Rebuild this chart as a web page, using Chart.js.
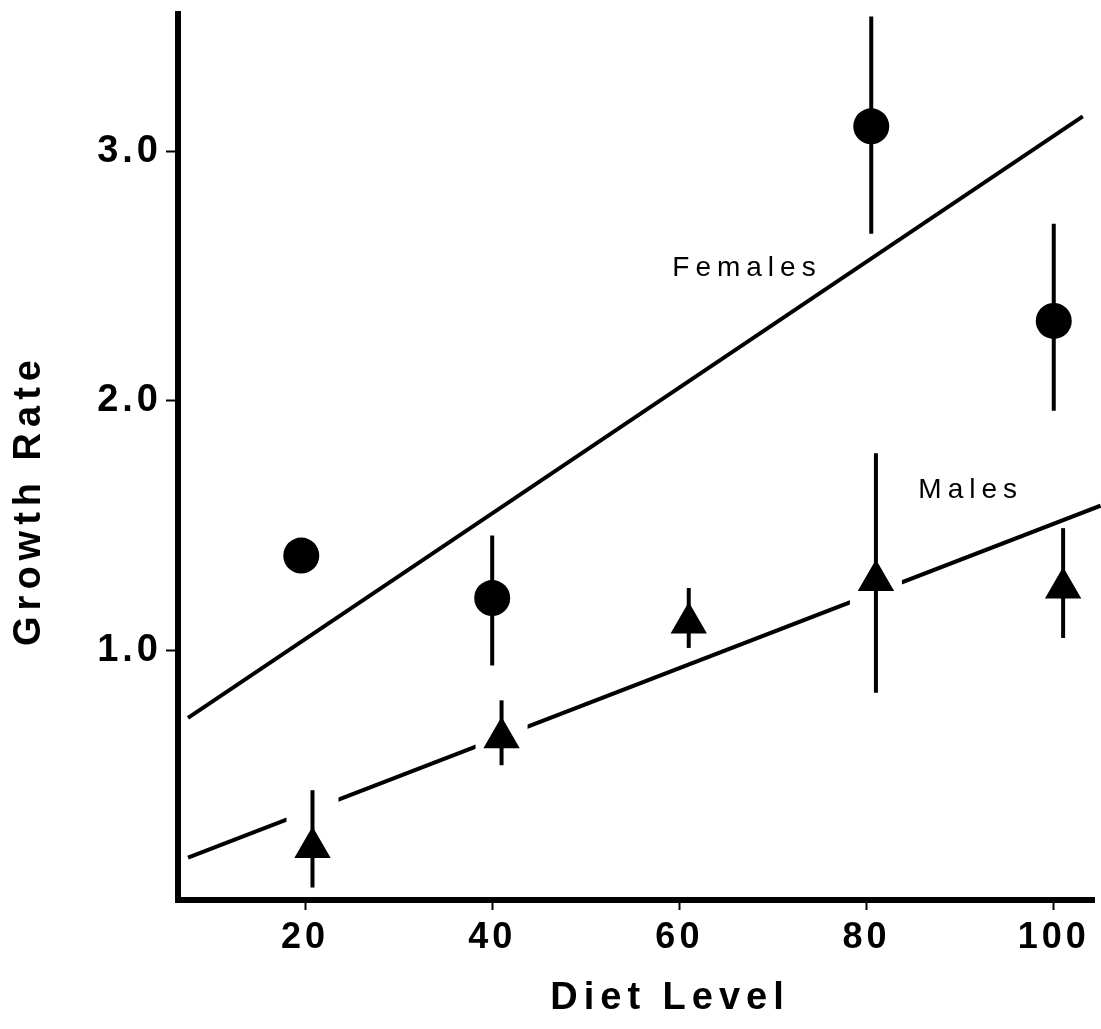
<!DOCTYPE html>
<html>
<head>
<meta charset="utf-8">
<script src="https://cdn.jsdelivr.net/npm/chart.js@4/dist/chart.umd.min.js"></script>
<style>
  html, body { margin: 0; padding: 0; background: #fff; }
  #wrap { width: 1101px; height: 1029px; }
</style>
</head>
<body>
<div id="wrap"><canvas id="growthChart" width="1101" height="1029"></canvas></div>
<script>
// growth rate by diet level: means with error bars, plus fitted lines
const femaleX    = [19.6, 40, 80.5, 100];
const femaleY    = [1.38, 1.21, 3.10, 2.32];
const femaleLow  = [null, 0.94, 2.67, 1.96];
const femaleHigh = [null, 1.46, 3.54, 2.71];

const maleX    = [20.8, 41, 61, 81, 101];
const maleY    = [0.21, 0.65, 1.11, 1.28, 1.25];
const maleLow  = [0.05, 0.54, 1.01, 0.83, 1.05];
const maleHigh = [0.44, 0.80, 1.25, 1.79, 1.49];

// regression line end points
const femaleFitX = [7.5, 103.1];
const femaleFitY = [0.73, 3.14];
const maleFitX   = [7.5, 105];
const maleFitY   = [0.17, 1.58];

const xTicks = [20, 40, 60, 80, 100];
const yTicks = [1, 2, 3];

const lineLabels = [
  { text: 'Females', x: 66.9, y: 2.53 },
  { text: 'Males',   x: 90.8, y: 1.64 }
];

const FONT = '"Liberation Sans", Arial, Helvetica, sans-serif';
const pts = (xs, ys) => xs.map((x, i) => ({ x, y: ys[i] }));

// wider letter spacing for all canvas text
const spacing = {
  id: 'spacing',
  beforeUpdate(chart) { chart.ctx.letterSpacing = '4px'; },
  beforeDraw(chart) { chart.ctx.letterSpacing = '4px'; }
};

function strokeBars(chart, xs, lows, highs) {
  const { ctx, scales: { x, y } } = chart;
  ctx.save();
  ctx.strokeStyle = '#000';
  ctx.lineWidth = 4;
  xs.forEach((v, i) => {
    if (lows[i] == null) return;
    const px = x.getPixelForValue(v);
    ctx.beginPath();
    ctx.moveTo(px, y.getPixelForValue(highs[i]));
    ctx.lineTo(px, y.getPixelForValue(lows[i]));
    ctx.stroke();
  });
  ctx.restore();
}

// fixed axis box, no extra room for overhanging tick labels
function fixBox(size) {
  return s => {
    if (s.isHorizontal()) s.height = size; else s.width = size;
    s.paddingTop = s.paddingBottom = s.paddingLeft = s.paddingRight = 0;
  };
}

const maleFitAt = v =>
  maleFitY[0] + (v - maleFitX[0]) * (maleFitY[1] - maleFitY[0]) / (maleFitX[1] - maleFitX[0]);

const errorBars = {
  id: 'errorBars',
  afterDatasetDraw(chart, args) {
    // white-out the male fit line where it runs through a male bar
    if (args.index !== 1) return;
    const { ctx, scales: { x, y } } = chart;
    ctx.save();
    ctx.fillStyle = '#fff';
    maleX.forEach((v, i) => {
      const fy = maleFitAt(v);
      if (fy < maleLow[i] || fy > maleHigh[i]) return;
      const px = x.getPixelForValue(v);
      const top = y.getPixelForValue(maleHigh[i]) + 2;
      const bot = y.getPixelForValue(maleLow[i]);
      ctx.fillRect(px - 26, top, 52, bot - top);
    });
    ctx.restore();
  },
  afterDatasetsDraw(chart) {
    strokeBars(chart, femaleX, femaleLow, femaleHigh);
    strokeBars(chart, maleX, maleLow, maleHigh);

    const { ctx, scales: { x, y } } = chart;
    ctx.save();
    ctx.fillStyle = '#000';
    ctx.textAlign = 'center';
    ctx.textBaseline = 'middle';
    ctx.letterSpacing = '6px';
    ctx.font = '28px ' + FONT;
    lineLabels.forEach(l => {
      ctx.fillText(l.text, x.getPixelForValue(l.x) + 3, y.getPixelForValue(l.y));
    });
    ctx.restore();
  },
  afterDraw(chart) {
    const { ctx } = chart;
    ctx.save();
    ctx.fillStyle = '#000';
    ctx.textAlign = 'center';
    ctx.textBaseline = 'middle';
    ctx.letterSpacing = '6px';
    ctx.font = 'bold 38px ' + FONT;
    ctx.fillText('Diet Level', 670, 999);
    ctx.translate(30, 503);
    ctx.rotate(-Math.PI / 2);
    ctx.fillText('Growth Rate', 3, 0);
    ctx.restore();
  }
};

new Chart(document.getElementById('growthChart'), {
  type: 'scatter',
  data: {
    datasets: [
      { type: 'line', label: 'Females fit', data: pts(femaleFitX, femaleFitY),
        borderColor: '#000', borderWidth: 4, pointRadius: 0, fill: false, order: 2 },
      { type: 'line', label: 'Males fit', data: pts(maleFitX, maleFitY),
        borderColor: '#000', borderWidth: 4, pointRadius: 0, fill: false, order: 2, clip: false },
      { label: 'Females', data: pts(femaleX, femaleY),
        pointStyle: 'circle', pointRadius: 18, backgroundColor: '#000', borderWidth: 0, order: 1 },
      { label: 'Males', data: pts(maleX, maleY),
        pointStyle: 'triangle', pointRadius: 21, backgroundColor: '#000', borderWidth: 0, order: 1 }
    ]
  },
  options: {
    responsive: false,
    animation: false,
    events: [],
    layout: { autoPadding: false, padding: { top: 14, right: 7, left: 0, bottom: 0 } },
    plugins: { legend: { display: false }, tooltip: { enabled: false } },
    scales: {
      x: {
        type: 'linear', min: 6.43, max: 104.3,
        afterBuildTicks(s) { s.ticks = xTicks.map(v => ({ value: v })); },
        afterFit: fixBox(129),
        border: { display: true, color: '#000', width: 6 },
        grid: { drawOnChartArea: false, drawTicks: true, tickLength: 10, tickWidth: 2, tickColor: '#000' },
        ticks: { color: '#000', autoSkip: false, maxRotation: 0, padding: 6,
                 font: { family: FONT, size: 36, weight: 'bold' }, callback: v => String(v) }
      },
      y: {
        type: 'linear', min: 0, max: 3.55,
        afterBuildTicks(s) { s.ticks = yTicks.map(v => ({ value: v })); },
        afterFit: fixBox(178),
        border: { display: true, color: '#000', width: 6 },
        grid: { drawOnChartArea: false, drawTicks: true, tickLength: 12, tickWidth: 2, tickColor: '#000' },
        ticks: { color: '#000', autoSkip: false, padding: 4,
                 font: { family: FONT, size: 38, weight: 'bold' }, callback: v => v.toFixed(1) }
      }
    }
  },
  plugins: [spacing, errorBars]
});
</script>
</body>
</html>
